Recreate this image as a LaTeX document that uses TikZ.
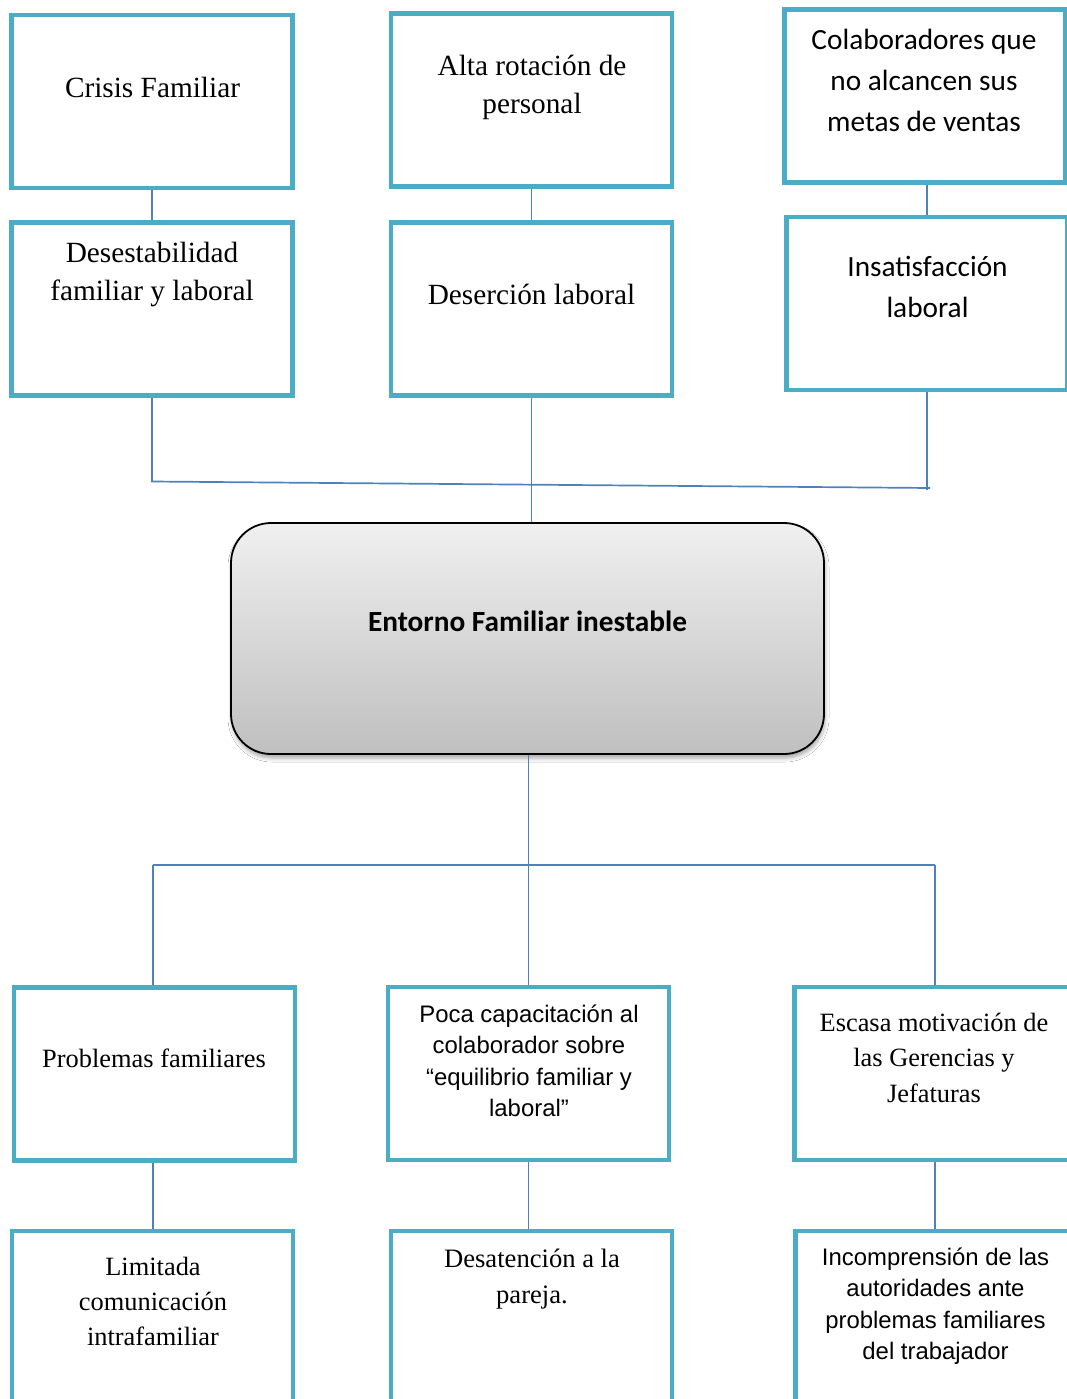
\documentclass[tikz,border=0pt]{standalone}
\usepackage{fontspec}
\setmainfont{Liberation Serif}
\newfontfamily\calibri{Carlito}
\newfontfamily\arial{Liberation Sans}
\usepackage{tikz}
\usetikzlibrary{shadows.blur}
\definecolor{cajaazul}{HTML}{4BACC6}
\definecolor{lineaazul}{HTML}{4F81BD}

\begin{document}
\begin{tikzpicture}[x=1pt,y=-1pt,
  caja/.style={draw=cajaazul, fill=white, line width=4.5pt, minimum width=281pt, minimum height=173pt, inner sep=0pt},
  enlace/.style={draw=lineaazul, line width=1.7pt},
  tnr/.style={align=center, inner sep=0pt, font=\fontsize{29.3pt}{38pt}\selectfont},
  tnrb/.style={align=center, inner sep=0pt, font=\fontsize{26.4pt}{35.3pt}\selectfont},
  cal/.style={align=center, inner sep=0pt, font=\calibri\fontsize{29.3pt}{41.4pt}\selectfont},
  ari/.style={align=center, inner sep=0pt, font=\arial\fontsize{23.9pt}{31.5pt}\selectfont}]
\useasboundingbox[fill=white] (0,0) rectangle (1067,1399);
\node[caja] (crisis) at (152,101.5) {};
\node[caja] (desest) at (152,309) {};
\node[caja] (rotacion) at (531.5,100) {};
\node[caja] (desercion) at (531.5,309) {};
\node[caja] (colab) at (925,96) {};
\node[caja] (insat) at (927,303.5) {};
\node[tnr] (crisis-t) at (152.5,87) {Crisis Familiar};
\node[tnr] (desest-t) at (152,274) {Desestabilidad\\familiar y laboral};
\node[tnr] (rotacion-t) at (532,87.5) {Alta rotación de\\personal};
\node[tnr] (desercion-t) at (531.5,294) {Deserción laboral};
\node[cal] (colab-t) at (924,80.5) {Colaboradores que\\no alcancen sus\\metas de ventas};
\node[cal] (insat-t) at (927.5,287) {Insatisfacción\\laboral};
\node[draw=black, line width=1.8pt, rounded corners=40pt, minimum width=593pt, minimum height=231pt, top color=gray!12, bottom color=gray!50, blur shadow={shadow xshift=1pt, shadow yshift=-4pt, shadow blur radius=4pt, shadow opacity=35}] (entorno) at (527.5,638.5) {};
\node[inner sep=0pt, font=\calibri\bfseries\fontsize{29.3pt}{36pt}\selectfont] (entorno-t) at (527.5,621.5) {Entorno Familiar inestable};
\node[caja] (probfam) at (154.5,1074) {};
\node[caja] (capac) at (528.5,1073.5) {};
\node[caja] (motiv) at (935,1073.5) {};
\node[caja] (limcom) at (152.7,1317.5) {};
\node[caja] (desat) at (531.5,1317.5) {};
\node[caja] (incomp) at (936,1317.5) {};
\node[tnrb] (probfam-t) at (154,1058.3) {Problemas familiares};
\node[ari] (capac-t) at (529,1060.7) {Poca capacitación al\\colaborador sobre\\“equilibrio familiar y\\laboral”};
\node[tnrb] (motiv-t) at (934,1057.7) {Escasa motivación de\\las Gerencias y\\Jefaturas};
\node[tnrb] (limcom-t) at (153,1301.5) {Limitada\\comunicación\\intrafamiliar};
\node[tnrb, font=\fontsize{26.6pt}{36.7pt}\selectfont] (desat-t) at (532,1279) {Desatención a la\\pareja.};
\node[ari] (incomp-t) at (935.5,1306) {Incomprensión de las\\autoridades ante\\problemas familiares\\del trabajador};
\coordinate (sup-izq) at (152,481.5);
\coordinate (sup-der) at (930,488);
\coordinate (inf-izq) at (153,865);
\coordinate (inf-der) at (935,865);
\draw[enlace] (crisis.south) -- (desest.north);
\draw[enlace] (rotacion.south) -- (desercion.north);
\draw[enlace] (colab.south -| insat.north) -- (insat.north);
\draw[enlace] (desest.south) -- (sup-izq) -- (sup-der);
\draw[enlace] (insat.south) -- ([yshift=-1.5pt]insat.south |- sup-der);
\draw[enlace] (desercion.south) -- (entorno.north -| desercion.south);
\draw[enlace] (entorno.south -| capac.north) -- (capac.north);
\draw[enlace] (inf-izq) -- (inf-der);
\draw[enlace] (inf-izq) -- (inf-izq |- probfam.north);
\draw[enlace] (inf-der) -- (motiv.north);
\draw[enlace] (probfam.south -| limcom.north) -- (limcom.north);
\draw[enlace] (capac.south) -- (capac.south |- desat.north);
\draw[enlace] (motiv.south) -- (motiv.south |- incomp.north);
\end{tikzpicture}
\end{document}
